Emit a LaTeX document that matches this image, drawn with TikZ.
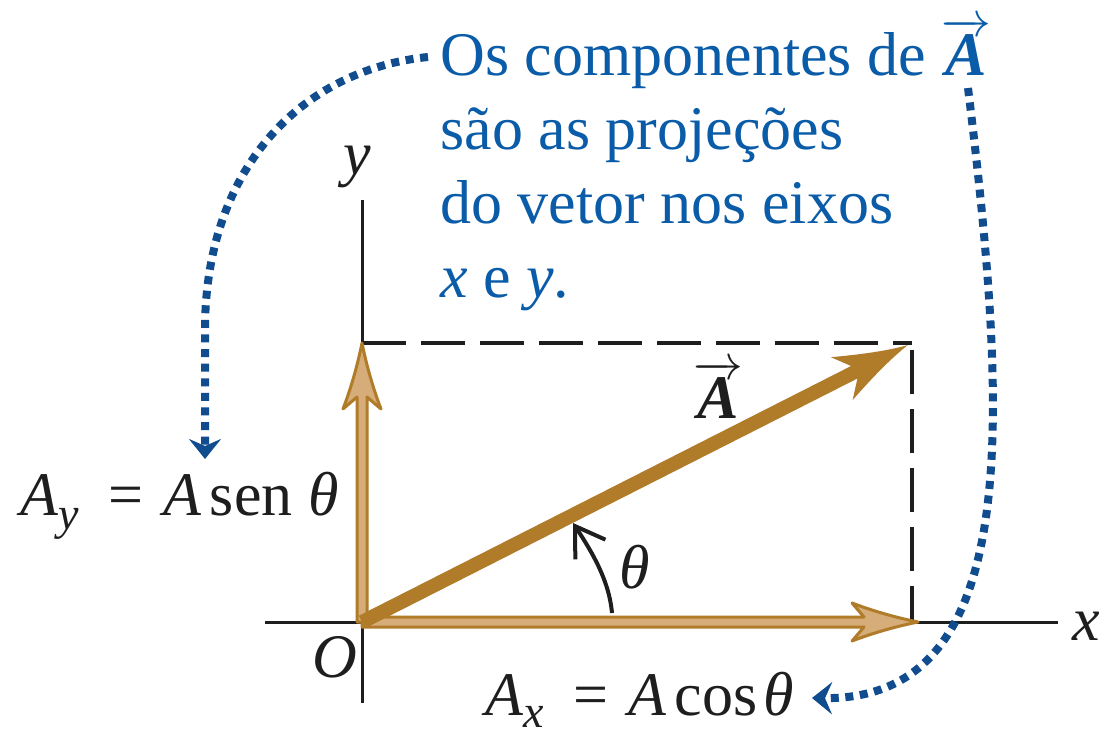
\documentclass[tikz,border=0pt]{standalone}
\usepackage{fontspec}
\setmainfont{Liberation Serif}
\usetikzlibrary{arrows.meta}
\definecolor{txtblue}{RGB}{10,92,168}
\definecolor{dotblue}{RGB}{16,76,142}
\definecolor{gold}{RGB}{176,124,42}
\definecolor{tanfill}{RGB}{214,172,120}
\definecolor{ink}{RGB}{30,30,30}
\newcommand{\vecA}{\ensuremath{\overrightarrow{\hbox{\bfseries\itshape A}}}}
\begin{document}
\begin{tikzpicture}[x=0.5pt,y=0.5pt,
  font=\fontsize{31}{37}\selectfont,
  axis/.style={ink,line width=1.5pt},
  dashline/.style={ink,line width=2pt,dash pattern=on 22pt off 7.5pt},
  dotarrow/.style={dotblue,line width=4pt,dash pattern=on 4pt off 3.3pt,
    -{Stealth[length=10pt,width=16pt,inset=3.5pt]}},
  comp/.style={fill=tanfill,draw=gold,line width=1.5pt,line join=round},
  vecshape/.style={fill=gold,draw=none},
  lbl/.style={inner sep=0pt,anchor=base west,text=ink}]
\useasboundingbox (0,0) rectangle (1103,730);
\fill[white] (0,0) rectangle (1103,730);

% key points
\coordinate (O) at (362,108);
\coordinate (xl) at (265,108);
\coordinate (xr) at (1058,108);
\coordinate (yb) at (362,27);
\coordinate (yt) at (362,530);
\coordinate (tl) at (362,387);
\coordinate (tr) at (912,387);
\coordinate (rt) at (912,380);
\coordinate (rb) at (912,108);

% axes
\draw[axis] (xl) -- (xr);
\draw[axis] (yb) -- (yt);

% dashed projections
\draw[dashline] (tl) -- (tr);
\draw[dashline] (rt) -- (rb);

% component Ax
\begin{scope}[shift={(918,108)}]
\filldraw[comp] (-556,-5) -- (-54,-5) -- (-66,-19) .. controls (-40,-9) and (-15,-3) .. (0,0)
  .. controls (-15,3) and (-40,9) .. (-66,19) -- (-54,5) -- (-556,5) -- cycle;
\end{scope}
% component Ay
\begin{scope}[shift={(362,387)},rotate=90]
\filldraw[comp] (-279,-5) -- (-54,-5) -- (-66,-19) .. controls (-40,-9) and (-15,-3) .. (0,0)
  .. controls (-15,3) and (-40,9) .. (-66,19) -- (-54,5) -- (-279,5) -- cycle;
\end{scope}
% vector A
\begin{scope}[shift={(362,108)},rotate=26.9]
\fill[vecshape] (0,-7) -- (552,-7) -- (538,-24) .. controls (568,-12) and (592,-4) .. (612,0)
  .. controls (592,4) and (568,12) .. (538,24) -- (552,7) -- (0,7) -- cycle;
\end{scope}

% angle arc
\coordinate (th0) at (612,117);
\coordinate (th1) at (573,207);
\draw[ink,line width=2pt,-{Straight Barb[length=14pt,width=18pt]}]
  (th0) .. controls (609,150) and (592,178) .. (th1);

% labels
\node[lbl] (ylab) at (343,555) {\textit{y}};
\node[lbl] (xlab) at (1072,90) {\textit{x}};
\node[lbl] (olab) at (312,53) {\textit{O}};
\node[lbl] (alab) at (693,312) {\vecA};
\node[lbl] (thlab) at (619,142) {\textit{θ}};
\node[lbl] (ay) at (20,215) {\textit{A}\raisebox{-7pt}{\fontsize{23}{23}\selectfont\textit{y}}\hspace{15pt}=\hspace{10pt}\textit{A}\hspace{4pt}sen\hspace{8pt}\textit{θ}};
\node[lbl] (ax) at (485,15) {\textit{A}\raisebox{-6pt}{\fontsize{23}{23}\selectfont\textit{x}}\hspace{15pt}=\hspace{10pt}\textit{A}\hspace{4pt}cos\hspace{3pt}\textit{θ}};

% note (base anchor = last line)
\node[inner sep=0pt,anchor=base west,align=left,text=txtblue] (note) at (440,433)
  {Os componentes de {\color{txtblue}\vecA}\\
   são as projeções\\
   do vetor nos eixos\\
   \textit{x} e \textit{y}.};

% dotted connectors
\coordinate (ls) at (428,673);
\coordinate (le) at (205,271);
\coordinate (rs) at (968,642);
\coordinate (re) at (812,32);
\draw[dotarrow] (ls) .. controls (300,660) and (205,560) .. (205,400) -- (le);
\draw[dotarrow] (rs) .. controls (1010,300) and (1020,30) .. (re);
\end{tikzpicture}
\end{document}
